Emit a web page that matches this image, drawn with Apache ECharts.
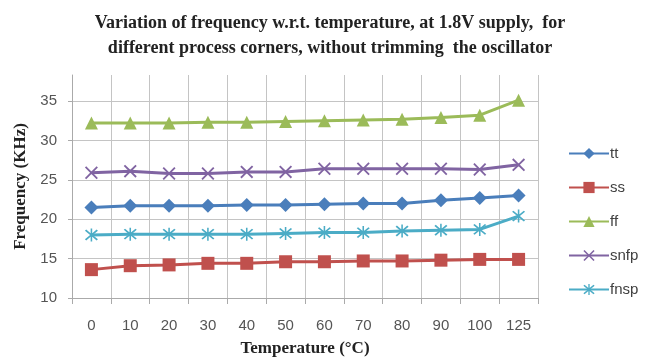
<!DOCTYPE html>
<html><head><meta charset="utf-8">
<script src="https://cdn.jsdelivr.net/npm/echarts@6/dist/echarts.min.js"></script>
<style>html,body{margin:0;padding:0;background:#fff}#c{width:653px;height:358px}</style>
</head><body><div id="c"></div>
<script>
var categories = ['0','10','20','30','40','50','60','70','80','90','100','125'];
var tt   = [21.5, 21.7, 21.7, 21.7, 21.8, 21.8, 21.9, 22.0, 22.0, 22.4, 22.7, 23.0];
var ss   = [13.6, 14.1, 14.2, 14.4, 14.4, 14.6, 14.6, 14.7, 14.7, 14.8, 14.9, 14.9];
var ff   = [32.2, 32.2, 32.2, 32.3, 32.3, 32.4, 32.5, 32.6, 32.7, 32.9, 33.2, 35.1];
var snfp = [25.9, 26.1, 25.8, 25.8, 26.0, 26.0, 26.4, 26.4, 26.4, 26.4, 26.3, 26.9];
var fnsp = [18.0, 18.1, 18.1, 18.1, 18.1, 18.2, 18.3, 18.3, 18.5, 18.6, 18.7, 20.4];
var yTicks = [10, 15, 20, 25, 30, 35];

var xPath = 'path://M1,0L5,4L9,0L10,1L6,5L10,9L9,10L5,6L1,10L0,9L4,5L0,1Z';
var starPath = 'path://M1,0L5,4L9,0L10,1L6,5L10,9L9,10L5,6L1,10L0,9L4,5L0,1Z M4.4,-1H5.6V11H4.4Z';

function mk(name, data, color, symbol, size) {
  return {
    name: name, type: 'line', data: data, symbol: symbol, symbolSize: size,
    showSymbol: true,
    lineStyle: { color: color, width: 3 },
    itemStyle: { color: color, borderColor: color, borderWidth: 0 },
    emphasis: { disabled: true }, animation: false
  };
}

var chart = echarts.init(document.getElementById('c'));
chart.setOption({
  backgroundColor: '#fff',
  animation: false,
  title: {
    text: 'Variation of frequency w.r.t. temperature, at 1.8V supply,  for\ndifferent process corners, without trimming  the oscillator',
    left: 325, top: 6, textAlign: 'center',
    textStyle: { fontFamily: 'Liberation Serif', fontWeight: 'bold', fontSize: 18, lineHeight: 25, color: '#222' }
  },
  grid: { left: 72, right: 115, top: 75, bottom: 60, containLabel: false, outerBoundsMode: 'none' },
  legend: {
    orient: 'vertical', left: 563, top: 141, itemGap: 19, itemWidth: 40, itemHeight: 14,
    textStyle: { fontFamily: 'Liberation Sans', fontSize: 15, color: '#404040', padding: [0,0,0,-4] },
    data: ['tt','ss','ff','snfp','fnsp']
  },
  xAxis: {
    type: 'category', data: categories, boundaryGap: true,
    name: 'Temperature (\u00B0C)', nameLocation: 'middle', nameGap: 42,
    nameTextStyle: { fontFamily: 'Liberation Serif', fontWeight: 'bold', fontSize: 17, color: '#222' },
    axisLine: { lineStyle: { color: '#aaa', width: 1 } },
    axisTick: { show: true, length: 6, lineStyle: { color: '#aaa' } },
    axisLabel: { fontFamily: 'Liberation Sans', fontSize: 15, color: '#555', margin: 20 },
    splitLine: { show: true, lineStyle: { color: '#c4c4c4', width: 1 } }
  },
  yAxis: {
    type: 'value', min: 10, max: 38.3, interval: 5,
    name: 'Frequency (KHz)', nameLocation: 'middle', nameGap: 42, nameRotate: 90,
    nameTextStyle: { fontFamily: 'Liberation Serif', fontWeight: 'bold', fontSize: 17, color: '#222' },
    axisLine: { show: true, lineStyle: { color: '#aaa', width: 1 } },
    axisTick: { show: true, length: 4, lineStyle: { color: '#aaa' } },
    axisLabel: { fontFamily: 'Liberation Sans', fontSize: 15, color: '#555', margin: 15, showMaxLabel: false,
      formatter: function (v) { return yTicks.indexOf(v) >= 0 ? String(v) : ''; } },
    splitLine: { show: true, showMaxLine: false, lineStyle: { color: '#c4c4c4', width: 1 } }
  },
  series: [
    mk('tt', tt, '#4a7ebb', 'diamond', 14),
    mk('ss', ss, '#c0504d', 'rect', 13),
    mk('ff', ff, '#9bbb59', 'triangle', 13),
    mk('snfp', snfp, '#8064a2', xPath, 13),
    mk('fnsp', fnsp, '#4bacc6', starPath, 13)
  ]
});
</script>
</body></html>
